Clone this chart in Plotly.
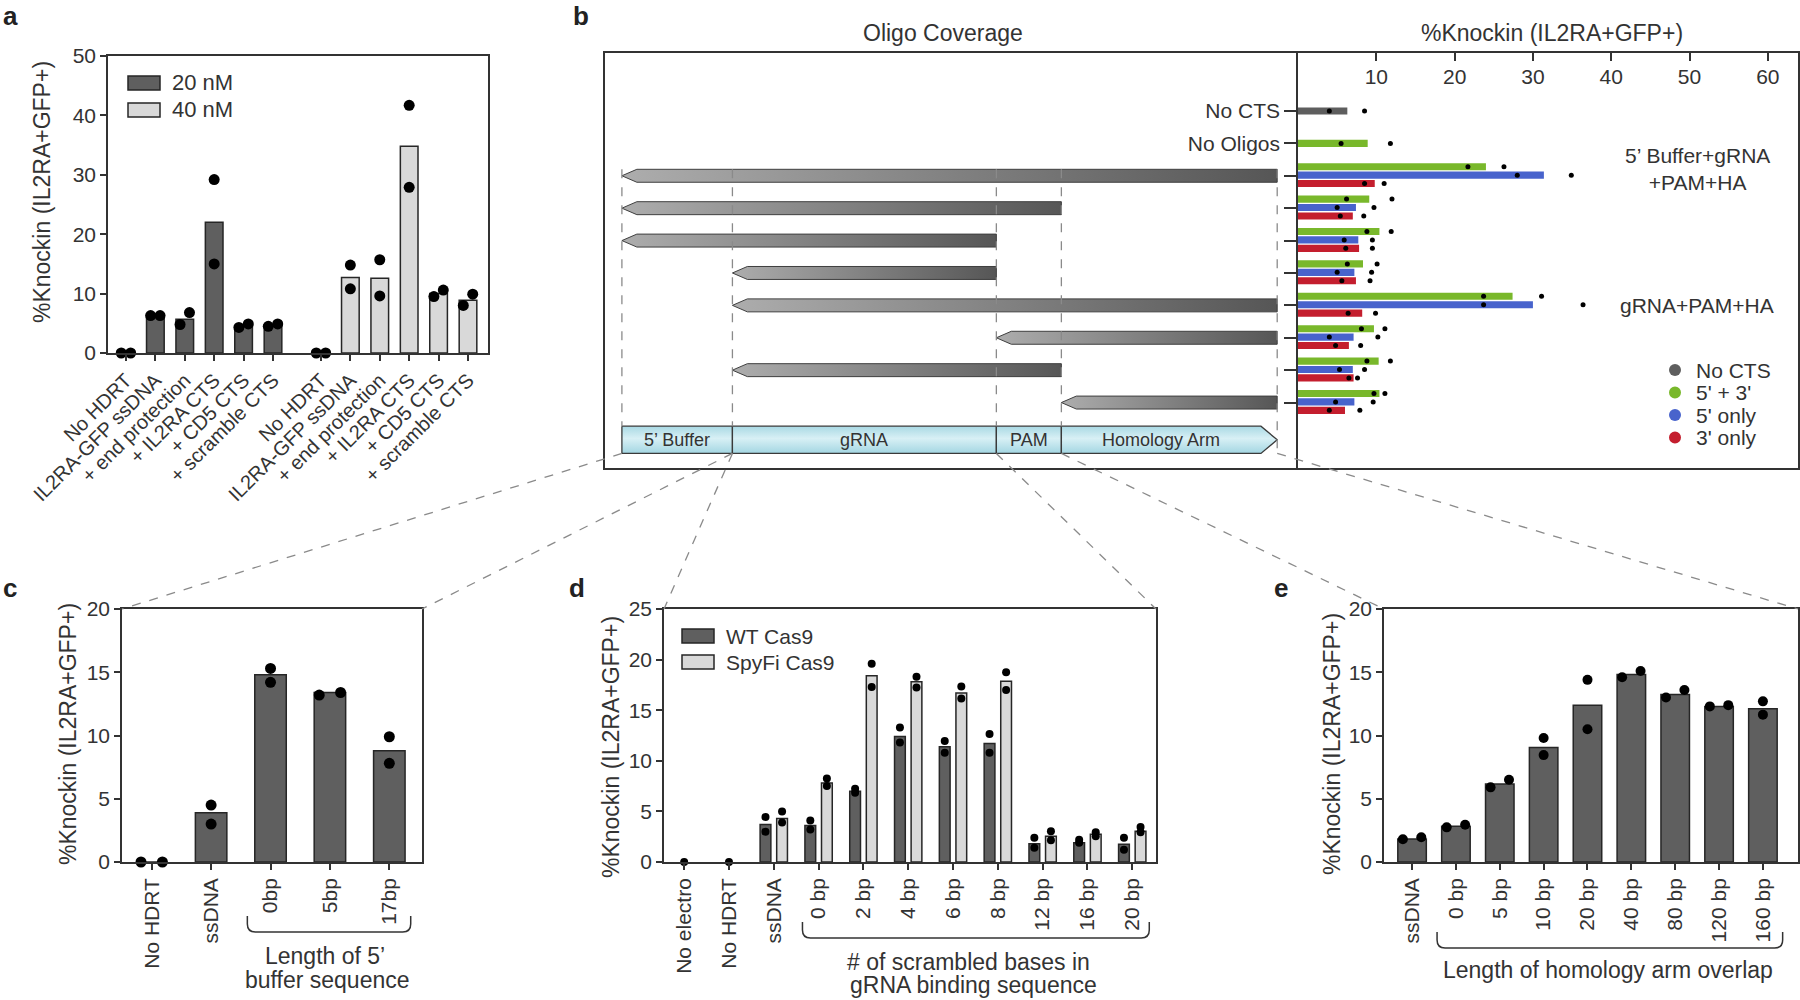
import numpy as np
import plotly.graph_objects as go

W, H = 1800, 1000
FONT = "Liberation Sans, Arial, Helvetica, sans-serif"
INK = "#333333"
EDGE = "#262626"
DARK = "#5f5f5f"
LIGHT = "#d9d9d9"
GREEN = "#79b82b"
BLUE = "#4863cc"
RED = "#c41e2e"
DASH = "#8a8a8a"

# ---------------- data ----------------
# a : CTS at two HDRT concentrations
a_labels = ["No HDRT", "IL2RA-GFP ssDNA", "+ end protection", "+ IL2RA CTS", "+ CD5 CTS", "+ scramble CTS"]
a_20nm = [0.0, 6.3, 5.7, 22.0, 4.6, 4.7]
a_20nm_r1 = [0.0, 6.3, 4.8, 29.2, 4.3, 4.5]
a_20nm_r2 = [0.0, 6.3, 6.8, 15.0, 4.9, 4.9]
a_40nm = [0.0, 12.7, 12.6, 34.8, 10.0, 8.9]
a_40nm_r1 = [0.0, 14.8, 15.7, 41.7, 9.5, 8.0]
a_40nm_r2 = [0.0, 10.8, 9.6, 27.9, 10.6, 9.9]

# b : oligo coverage
segments = ["5’ Buffer", "gRNA", "PAM", "Homology Arm"]
segment_len = [1.7, 4.06, 1.0, 3.32]
b_row_labels = ["No CTS", "No Oligos", "", "", "", "", "", "", "", ""]
oligo_first = [0, 0, 0, 1, 1, 2, 1, 3]
oligo_last = [3, 2, 1, 1, 3, 3, 2, 3]
b_notes = {0: "5’ Buffer+gRNA<br>+PAM+HA", 4: "gRNA+PAM+HA"}
b_ctrl = [6.3, 8.9]          # No CTS, No Oligos
b_ctrl_r1 = [4.0, 5.5]
b_ctrl_r2 = [8.5, 11.8]
b_both = [24.0, 9.1, 10.4, 8.3, 27.4, 9.7, 10.3, 10.4]
b_both_r1 = [21.7, 6.2, 8.8, 6.3, 23.7, 8.1, 8.8, 9.7]
b_both_r2 = [26.3, 12.0, 11.9, 10.1, 31.1, 11.1, 11.8, 11.1]
b_five = [31.4, 7.4, 7.7, 7.2, 30.0, 7.1, 7.0, 7.2]
b_five_r1 = [28.0, 5.0, 5.9, 5.0, 23.7, 4.0, 5.3, 4.8]
b_five_r2 = [34.9, 9.7, 9.5, 9.4, 36.4, 10.2, 8.5, 9.6]
b_three = [9.8, 7.0, 7.8, 7.4, 8.2, 6.5, 7.1, 6.0]
b_three_r1 = [8.5, 5.4, 6.1, 5.6, 6.4, 4.8, 6.5, 4.0]
b_three_r2 = [11.0, 8.4, 9.5, 9.2, 9.9, 8.0, 7.6, 7.9]
b_legend = ["No CTS", "5' + 3'", "5' only", "3' only"]

# c : 5' buffer length
c_labels = ["No HDRT", "ssDNA", "0bp", "5bp", "17bp"]
c_mean = [0.0, 3.9, 14.8, 13.4, 8.8]
c_r1 = [0.0, 4.5, 15.3, 13.2, 9.9]
c_r2 = [0.0, 3.0, 14.2, 13.4, 7.8]

# d : scrambled gRNA binding bases
d_labels = ["No electro", "No HDRT", "ssDNA", "0 bp", "2 bp", "4 bp", "6 bp", "8 bp", "12 bp", "16 bp", "20 bp"]
d_ctrl = [0.0, 0.0, None, None, None, None, None, None, None, None, None]
d_wt = [None, None, 3.7, 3.6, 7.0, 12.4, 11.4, 11.7, 1.8, 1.9, 1.75]
d_wt_r1 = [None, None, 4.45, 4.1, 7.25, 13.3, 11.95, 12.65, 2.4, 2.2, 2.4]
d_wt_r2 = [None, None, 3.0, 3.2, 6.85, 11.8, 10.8, 10.8, 1.4, 1.9, 1.2]
d_spy = [None, None, 4.3, 7.8, 18.4, 17.8, 16.7, 17.85, 2.55, 2.75, 3.05]
d_spy_r1 = [None, None, 5.0, 8.25, 19.6, 18.3, 17.35, 18.75, 3.05, 2.95, 3.45]
d_spy_r2 = [None, None, 3.9, 7.5, 17.3, 17.25, 16.15, 17.0, 2.15, 2.55, 2.95]

# e : homology arm overlap
e_labels = ["ssDNA", "0 bp", "5 bp", "10 bp", "20 bp", "40 bp", "80 bp", "120 bp", "160 bp"]
e_mean = [1.82, 2.82, 6.17, 9.06, 12.4, 14.83, 13.25, 12.3, 12.12]
e_r1 = [1.8, 2.74, 5.9, 9.8, 14.4, 14.6, 13.0, 12.3, 12.7]
e_r2 = [1.95, 2.95, 6.5, 8.45, 10.5, 15.1, 13.6, 12.4, 11.65]

# ---------------- layout geometry (pixels) ----------------
BOX = dict(a=(108, 56, 488, 353), bd=(605, 53, 1298, 468), bb=(1298, 53, 1798, 468),
           c=(122, 609, 422, 862), d=(664, 609, 1156, 862), e=(1384, 609, 1798, 862))
XR = dict(a=(-0.61, 12.31), bd=(-0.26, 10.4), bb=(0, 63.85),
          c=(-0.5, 4.55), d=(-0.45, 10.53), e=(-0.64, 8.8))
ROWS = (11.02, -1.79)


def fx(x):
    return x / W


def fy(y):
    return 1 - y / H


def xpx(p, v):
    x0, _, x1, _ = BOX[p]
    r0, r1 = XR[p]
    return x0 + (v - r0) / (r1 - r0) * (x1 - x0)


def ypx_row(v):
    _, t, _, b = BOX["bd"]
    return t + (v - ROWS[1]) / (ROWS[0] - ROWS[1]) * (b - t)


def dom(p):
    x0, t, x1, b = BOX[p]
    return [fx(x0), fx(x1)], [fy(b), fy(t)]


def dodge(r1, r2, thr, dx):
    o1, o2 = [], []
    for u, v in zip(r1, r2):
        if u is None or v is None or abs(u - v) >= thr:
            o1.append(0.0); o2.append(0.0)
        elif u <= v:
            o1.append(-dx); o2.append(dx)
        else:
            o1.append(dx); o2.append(-dx)
    return np.array(o1), np.array(o2)


fig = go.Figure()
shapes, annos = [], []


def dots(xs, ys, xa, ya, size):
    fig.add_trace(go.Scatter(x=xs, y=ys, mode="markers", xaxis=xa, yaxis=ya,
                             marker=dict(size=size, color="black"), cliponaxis=False,
                             showlegend=False, hoverinfo="skip"))


def text_px(x, y, s, size=21, xanchor="center", angle=0, bold=False):
    annos.append(dict(x=fx(x), y=fy(y), xref="paper", yref="paper", text=f"<b>{s}</b>" if bold else s,
                      showarrow=False, xanchor=xanchor, yanchor="middle", textangle=angle,
                      font=dict(size=size, color="#222" if bold else INK)))


def rect_px(x0, y0, x1, y1, color):
    shapes.append(dict(type="rect", xref="paper", yref="paper", x0=fx(x0), x1=fx(x1), y0=fy(y1), y1=fy(y0),
                       fillcolor=color, line=dict(color=EDGE, width=1.5)))


def bracket(x0, x1, ytop, ybot, r=8):
    path = (f"M{fx(x0)},{fy(ytop)} L{fx(x0)},{fy(ybot - r)} Q{fx(x0)},{fy(ybot)} {fx(x0 + r)},{fy(ybot)} "
            f"L{fx(x1 - r)},{fy(ybot)} Q{fx(x1)},{fy(ybot)} {fx(x1)},{fy(ybot - r)} L{fx(x1)},{fy(ytop)}")
    shapes.append(dict(type="path", xref="paper", yref="paper", path=path, line=dict(color=INK, width=1.5)))


bar_line = dict(color=EDGE, width=1.5)

# ---------------- a ----------------
pos20 = np.arange(6)
pos40 = np.arange(6) + 6.63
fig.add_trace(go.Bar(x=pos20, y=a_20nm, width=0.6, marker=dict(color=DARK, line=bar_line), xaxis="x", yaxis="y"))
fig.add_trace(go.Bar(x=pos40, y=a_40nm, width=0.6, marker=dict(color=LIGHT, line=bar_line), xaxis="x", yaxis="y"))
for pos, r1, r2 in [(pos20, a_20nm_r1, a_20nm_r2), (pos40, a_40nm_r1, a_40nm_r2)]:
    o1, o2 = dodge(r1, r2, 2.2, 0.16)
    dots(np.concatenate([pos + o1, pos + o2]), list(r1) + list(r2), "x", "y", 11)
rect_px(128, 76, 160, 90, DARK)
rect_px(128, 103, 160, 117, LIGHT)
text_px(170, 83, "20 nM", 22, "left")
text_px(170, 110, "40 nM", 22, "left")

# ---------------- b : diagram ----------------
seg_len = np.array(segment_len)
seg_end = np.cumsum(seg_len)
seg_start = seg_end - seg_len
oligo_rows = np.arange(2, 2 + len(oligo_first))
AH, TIP = 0.2, 0.23
for k, r in enumerate(oligo_rows):
    x0, x1 = seg_start[oligo_first[k]], seg_end[oligo_last[k]]
    fig.add_trace(go.Scatter(
        x=[x1, x0 + TIP, x0, x0 + TIP, x1, x1], y=[r - AH, r - AH, r, r + AH, r + AH, r - AH],
        mode="lines", fill="toself", xaxis="x2", yaxis="y2", hoverinfo="skip", showlegend=False,
        fillgradient=dict(type="horizontal", colorscale=[[0, "#adadad"], [1, "#565656"]]),
        line=dict(color="#3f3f3f", width=1)))

BAR_ROW, SH, HTIP = 10.15, 0.42, 0.25
blue_grad = dict(type="vertical", colorscale=[[0, "#a3d6e2"], [0.55, "#d8f0f5"], [1, "#a9d9e4"]])
for i, name in enumerate(segments):
    x0, x1 = seg_start[i], seg_end[i]
    if i == len(segments) - 1:
        xs = [x0, x1 - HTIP, x1, x1 - HTIP, x0, x0]
        ys = [BAR_ROW - SH, BAR_ROW - SH, BAR_ROW, BAR_ROW + SH, BAR_ROW + SH, BAR_ROW - SH]
        xm = (x0 + x1 - HTIP) / 2
    else:
        xs = [x0, x1, x1, x0, x0]
        ys = [BAR_ROW - SH, BAR_ROW - SH, BAR_ROW + SH, BAR_ROW + SH, BAR_ROW - SH]
        xm = (x0 + x1) / 2
    fig.add_trace(go.Scatter(x=xs, y=ys, mode="lines", fill="toself", fillgradient=blue_grad,
                             line=dict(color="#3a3a3a", width=1.3), xaxis="x2", yaxis="y2",
                             hoverinfo="skip", showlegend=False))
    annos.append(dict(x=xm, y=BAR_ROW, xref="x2", yref="y2", text=name, showarrow=False,
                      font=dict(size=18, color=INK)))

bounds = list(seg_start) + [seg_end[-1]]
for i, xb in enumerate(bounds):
    y_end = BAR_ROW + SH if i == len(bounds) - 1 else BAR_ROW - SH
    shapes.append(dict(type="line", xref="x2", yref="y2", x0=xb, x1=xb, y0=oligo_rows[0] - AH, y1=y_end,
                       line=dict(color=DASH, width=1.3, dash="dash"), layer="above"))

# connectors to panels c, d, e
ybar = ypx_row(BAR_ROW + SH)
targets = [(0, "c", 0), (1, "c", 2), (1, "d", 0), (2, "d", 2), (3, "e", 0), (4, "e", 2)]
for bi, p, corner in targets:
    xs = xpx("bd", bounds[bi])
    xt, yt = BOX[p][corner], BOX[p][1]
    shapes.append(dict(type="line", xref="paper", yref="paper", x0=fx(xs), y0=fy(ybar), x1=fx(xt), y1=fy(yt),
                       line=dict(color=DASH, width=1.3, dash="dash")))

# ---------------- b : bars ----------------
BH = 0.22
fig.add_trace(go.Bar(orientation="h", x=[b_ctrl[0]], y=[0], width=BH, offset=-BH / 2,
                     marker=dict(color="#5e5e5e", line=dict(width=0)), xaxis="x3", yaxis="y3"))
fig.add_trace(go.Bar(orientation="h", x=[b_ctrl[1]], y=[1], width=BH, offset=-BH / 2,
                     marker=dict(color=GREEN, line=dict(width=0)), xaxis="x3", yaxis="y3"))
dots(b_ctrl_r1 + b_ctrl_r2, [0, 1, 0, 1], "x3", "y3", 5)
for vals, r1, r2, col, cen in [(b_both, b_both_r1, b_both_r2, GREEN, -0.28),
                                (b_five, b_five_r1, b_five_r2, BLUE, -0.02),
                                (b_three, b_three_r1, b_three_r2, RED, 0.24)]:
    fig.add_trace(go.Bar(orientation="h", x=vals, y=oligo_rows, width=BH, offset=cen - BH / 2,
                         marker=dict(color=col, line=dict(width=0)), xaxis="x3", yaxis="y3"))
    dots(r1 + r2, list(oligo_rows + cen) * 2, "x3", "y3", 5)

for k, note in b_notes.items():
    annos.append(dict(x=51.0, y=oligo_rows[k] - (0.2 if "<br>" in note else 0), xref="x3", yref="y3",
                      text=note, showarrow=False, font=dict(size=21, color=INK)))
leg_cols = ["#5e5e5e", GREEN, BLUE, RED]
for i, (lab, col) in enumerate(zip(b_legend, leg_cols)):
    cy = 370 + 22.5 * i
    shapes.append(dict(type="circle", xref="paper", yref="paper", x0=fx(1669), x1=fx(1681),
                       y0=fy(cy + 6), y1=fy(cy - 6), fillcolor=col, line=dict(width=0)))
    text_px(1694, cy, lab, 21, "left")

text_px(943, 33, "Oligo Coverage", 23)
text_px(1552, 33, "%Knockin (IL2RA+GFP+)", 23)

# ---------------- c ----------------
pc = np.arange(len(c_labels))
fig.add_trace(go.Bar(x=pc, y=c_mean, width=0.53, marker=dict(color=DARK, line=bar_line), xaxis="x4", yaxis="y4"))
o1, o2 = dodge(c_r1, c_r2, 0.9, 0.18)
dots(np.concatenate([pc + o1, pc + o2]), c_r1 + c_r2, "x4", "y4", 11)
bracket(xpx("c", 2 - 0.39), xpx("c", 4 + 0.36), 916, 932)
text_px(325, 956, "Length of 5’", 23)
text_px(327, 980, "buffer sequence", 23)

# ---------------- d ----------------
pd_ = np.arange(len(d_labels))
DW, DC = 0.24, 0.185
fig.add_trace(go.Bar(x=pd_, y=d_wt, width=DW, offset=-DC - DW / 2, marker=dict(color=DARK, line=bar_line),
                     xaxis="x5", yaxis="y5"))
fig.add_trace(go.Bar(x=pd_, y=d_spy, width=DW, offset=DC - DW / 2, marker=dict(color=LIGHT, line=bar_line),
                     xaxis="x5", yaxis="y5"))
for vals, off in [(d_wt_r1, -DC), (d_wt_r2, -DC), (d_spy_r1, DC), (d_spy_r2, DC), (d_ctrl, 0)]:
    xs = [i + off for i, v in enumerate(vals) if v is not None]
    ys = [v for v in vals if v is not None]
    dots(xs, ys, "x5", "y5", 8)
rect_px(682, 629, 714, 643, DARK)
rect_px(682, 655, 714, 669, LIGHT)
text_px(724, 636, "WT Cas9", 21, "left")
text_px(724, 662, "SpyFi Cas9", 21, "left")
bracket(xpx("d", 3 - 0.36), xpx("d", 10 + 0.38), 922, 938)
text_px(968, 962, "# of scrambled bases in", 23)
text_px(973, 985, "gRNA binding sequence", 23)

# ---------------- e ----------------
pe = np.arange(len(e_labels))
fig.add_trace(go.Bar(x=pe, y=e_mean, width=0.65, marker=dict(color=DARK, line=bar_line), xaxis="x6", yaxis="y6"))
o1, o2 = dodge(e_r1, e_r2, 0.9, 0.21)
dots(np.concatenate([pe + o1, pe + o2]), e_r1 + e_r2, "x6", "y6", 10)
bracket(xpx("e", 1 - 0.43), xpx("e", 8 + 0.45), 932, 948)
text_px(1608, 970, "Length of homology arm overlap", 23)

# ---------------- titles / letters ----------------
ytitle = "%Knockin (IL2RA+GFP+)"
text_px(42, 192, ytitle, 23, angle=-90)
text_px(68, 734, ytitle, 23, angle=-90)
text_px(611, 747, ytitle, 23, angle=-90)
text_px(1332, 744, ytitle, 23, angle=-90)
for letter, (x, y) in zip("abcde", [(10, 16), (581, 16), (10, 588), (577, 588), (1281, 588)]):
    text_px(x, y, letter, 26, bold=True)

# ---------------- axes ----------------
base = dict(showline=True, linecolor=INK, linewidth=1.5, mirror=True, showgrid=False, zeroline=False,
            ticks="outside", ticklen=6, tickwidth=1.5, tickcolor=INK, tickfont=dict(size=19, color=INK))
ax = {}
dx, dy = dom("a")
ax["xaxis"] = dict(base, domain=dx, range=XR["a"], anchor="y", tickvals=list(pos20) + list(pos40),
                   ticktext=a_labels * 2, tickangle=-45, tickfont=dict(size=20, color=INK))
ax["yaxis"] = dict(base, domain=dy, range=[0, 50], anchor="x", dtick=10, tickfont=dict(size=21, color=INK))
dx, dy = dom("bd")
ax["xaxis2"] = dict(base, domain=dx, range=XR["bd"], anchor="y2", ticks="", showticklabels=False)
ax["yaxis2"] = dict(base, domain=dy, range=list(ROWS), anchor="x2", ticks="", showticklabels=False,
                    mirror=False)
dx, dy = dom("bb")
ax["xaxis3"] = dict(base, domain=dx, range=XR["bb"], anchor="y3", side="top", tickvals=[10, 20, 30, 40, 50, 60],
                    ticks="inside", ticklen=8, ticklabelposition="inside", ticklabelstandoff=10,
                    tickfont=dict(size=21, color=INK))
ax["yaxis3"] = dict(base, domain=dy, range=list(ROWS), anchor="x3", tickvals=list(range(len(b_row_labels))),
                    ticktext=b_row_labels, ticklen=12, tickfont=dict(size=21, color=INK))
for n, p, labels in [(4, "c", c_labels), (5, "d", d_labels), (6, "e", e_labels)]:
    dx, dy = dom(p)
    ymax = 25 if p == "d" else 20
    ax[f"xaxis{n}"] = dict(base, domain=dx, range=XR[p], anchor=f"y{n}", tickvals=list(range(len(labels))),
                           ticktext=labels, tickangle=-90, tickfont=dict(size=21, color=INK))
    ax[f"yaxis{n}"] = dict(base, domain=dy, range=[0, ymax], anchor=f"x{n}", dtick=5,
                           tickfont=dict(size=21, color=INK))

fig.update_layout(width=W, height=H, margin=dict(l=0, r=0, t=0, b=0), template="none",
                  paper_bgcolor="white", plot_bgcolor="white", barmode="overlay", showlegend=False,
                  font=dict(family=FONT, color=INK), shapes=shapes, annotations=annos, **ax)

fig.write_html("out.html", config={"displayModeBar": False},
               post_script="document.body.style.margin='0';document.body.style.overflow='hidden';")
